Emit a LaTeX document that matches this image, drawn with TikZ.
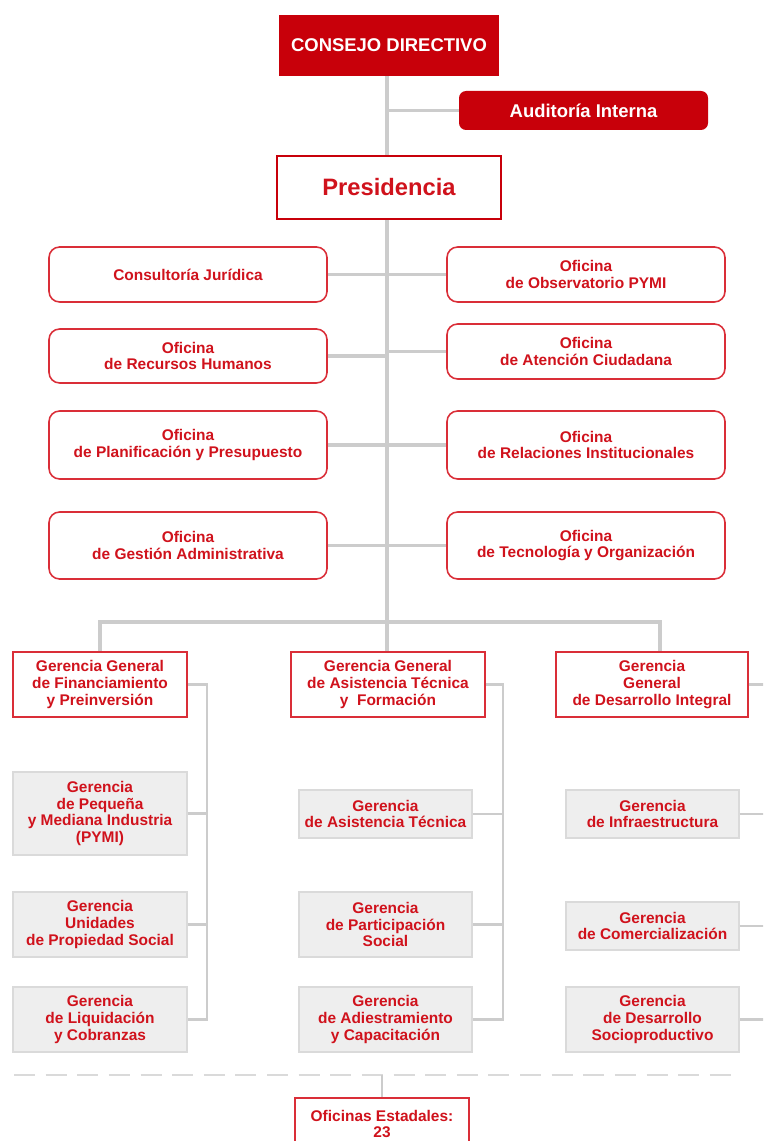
\documentclass[tikz,border=0pt]{standalone}
\usepackage{fontspec}
\setmainfont{Liberation Sans}
\usetikzlibrary{calc}

\definecolor{cred}{HTML}{C8000A}
\definecolor{tred}{HTML}{D0121C}
\definecolor{bred}{HTML}{DA2E38}
\definecolor{lgrey}{HTML}{CCCCCC}
\definecolor{sgrey}{HTML}{EEEEEE}
\definecolor{dgrey}{HTML}{DADADA}

\begin{document}
\begin{tikzpicture}[x=0.02cm, y=-0.02cm,
  wh/.style 2 args={minimum width=#1*0.02cm, minimum height=#2*0.02cm},
  link/.style={draw=lgrey, line width=2.7pt},
  twig/.style={draw=lgrey, line width=1.8pt},
  branch/.style={draw=lgrey, line width=1.3pt},
  headbox/.style={fill=cred, text=white, inner sep=0pt, align=center,
    font=\bfseries\fontsize{10.5}{12}\selectfont},
  office/.style={draw=bred, line width=0.9pt, rounded corners=6pt, fill=white,
    text=tred, inner sep=0pt, align=center,
    font=\bfseries\fontsize{8.8}{9.6}\selectfont},
  gerbox/.style={draw=bred, line width=0.9pt, fill=white, text=tred,
    inner sep=0pt, align=center, font=\bfseries\fontsize{8.8}{9.5}\selectfont},
  subbox/.style={draw=dgrey, line width=0.9pt, fill=sgrey, text=tred,
    inner sep=0pt, align=center, font=\bfseries\fontsize{8.8}{9.5}\selectfont}
]

  % Page (pixel units, y downward)
  \clip (0,0) rectangle (763,1141);

  % Spines
  \coordinate (trunk) at (387,0);
  \coordinate (dropC) at (660,622);
  \coordinate (spineA) at (207,0);
  \coordinate (spineB) at (503,0);
  \coordinate (spineC) at (765,0);

  % Top of the chart
  \node[headbox, wh={220}{61}] (consejo) at (389,45.5) {CONSEJO DIRECTIVO};
  \node[headbox, rounded corners=4pt, wh={249}{39}] (auditoria) at (583.5,110.5)
    {Auditoría Interna};
  \node[draw=cred, line width=1.5pt, fill=white, text=tred, inner sep=0pt,
    font=\bfseries\fontsize{13.5}{15}\selectfont, wh={224}{63}]
    (presidencia) at (389,187.5) {Presidencia};

  % Offices, left
  \node[office, wh={278}{55}] (juridica) at (188,274.5) {Consultoría Jurídica};
  \node[office, wh={278}{54}] (rrhh) at (188,356) {Oficina\\de Recursos Humanos};
  \node[office, wh={278}{68}] (planif) at (188,445)
    {Oficina\\de Planificación y Presupuesto};
  \node[office, wh={278}{67}] (gestion) at (188,545.5)
    {Oficina\\de Gestión Administrativa};

  % Offices, right
  \node[office, wh={278}{55}] (observatorio) at (586,274.5)
    {Oficina\\de Observatorio PYMI};
  \node[office, wh={278}{55}] (atencion) at (586,351.5)
    {Oficina\\de Atención Ciudadana};
  \node[office, wh={278}{68}] (relaciones) at (586,445)
    {Oficina\\de Relaciones Institucionales};
  \node[office, wh={278}{67}] (tecnologia) at (586,545.5)
    {Oficina\\de Tecnología y Organización};

  % General managements
  \node[gerbox, wh={174}{65}] (ggfin) at (100,684.5)
    {Gerencia General\\de Financiamiento\\y Preinversión};
  \node[gerbox, wh={194}{65}] (ggtec) at (388,684.5)
    {Gerencia General\\de Asistencia Técnica\\y~ Formación};
  \node[gerbox, wh={192}{65}] (ggdes) at (652,684.5)
    {Gerencia\\General\\de Desarrollo Integral};

  % Managements, column A
  \node[subbox, wh={174}{83}] (pymi) at (100,813.5)
    {Gerencia\\de Pequeña\\y Mediana Industria\\(PYMI)};
  \node[subbox, wh={174}{65}] (unidades) at (100,924.5)
    {Gerencia\\Unidades\\de Propiedad Social};
  \node[subbox, wh={174}{65}] (liquidacion) at (100,1019.5)
    {Gerencia\\de Liquidación\\y Cobranzas};

  % Managements, column B
  \node[subbox, wh={173}{48}] (asistencia) at (385.5,814)
    {Gerencia\\de Asistencia Técnica};
  \node[subbox, wh={173}{65}] (participacion) at (385.5,924.5)
    {Gerencia\\de Participación\\Social};
  \node[subbox, wh={173}{65}] (adiestramiento) at (385.5,1019.5)
    {Gerencia\\de Adiestramiento\\y Capacitación};

  % Managements, column C
  \node[subbox, wh={173}{48}] (infra) at (652.5,814)
    {Gerencia\\de Infraestructura};
  \node[subbox, wh={173}{48}] (comercial) at (652.5,926)
    {Gerencia\\de Comercialización};
  \node[subbox, wh={173}{65}] (socio) at (652.5,1019.5)
    {Gerencia\\de Desarrollo\\Socioproductivo};

  % State offices
  \node[draw=bred, line width=0.9pt, fill=white, text=tred, inner sep=0pt,
    align=center, font=\bfseries\fontsize{8.8}{9.5}\selectfont, wh={174}{52}]
    (estadales) at (382,1124) {Oficinas Estadales:\\23};

  % Trunk and staff links
  \draw[link] (consejo.south -| trunk) -- (presidencia.north -| trunk);
  \draw[twig] (auditoria.west -| trunk) -- (auditoria.west);
  \draw[link] (presidencia.south -| trunk) -- (trunk |- ggtec.north);
  \foreach \b in {juridica,rrhh,planif,gestion}
    \draw[twig] (\b.east) -- (\b.east -| trunk);
  \foreach \b in {observatorio,atencion,relaciones,tecnologia}
    \draw[twig] (\b.west) -- (\b.west -| trunk);

  % Bar over the general managements
  \draw[link] (ggfin.north) |- (dropC) -- (dropC |- ggdes.north);

  % Side spines
  \draw[branch] (ggfin.east) -- (ggfin.east -| spineA)
    -- (liquidacion.east -| spineA) -- (liquidacion.east);
  \foreach \b in {pymi,unidades}
    \draw[branch] (\b.east) -- (\b.east -| spineA);
  \draw[branch] (ggtec.east) -- (ggtec.east -| spineB)
    -- (adiestramiento.east -| spineB) -- (adiestramiento.east);
  \foreach \b in {asistencia,participacion}
    \draw[branch] (\b.east) -- (\b.east -| spineB);
  \draw[branch] (ggdes.east) -- (ggdes.east -| spineC)
    -- (socio.east -| spineC) -- (socio.east);
  \foreach \b in {infra,comercial}
    \draw[branch] (\b.east) -- (\b.east -| spineC);

  % Dashed separator and state offices
  \coordinate (dashL) at (14,1075);
  \coordinate (dashR) at (735,1075);
  \draw[draw=dgrey, line width=1.6pt, dash pattern=on 12 off 6] (dashL) -- (dashR);
  \draw[branch] (estadales.north |- dashL) -- (estadales.north);

\end{tikzpicture}
\end{document}
